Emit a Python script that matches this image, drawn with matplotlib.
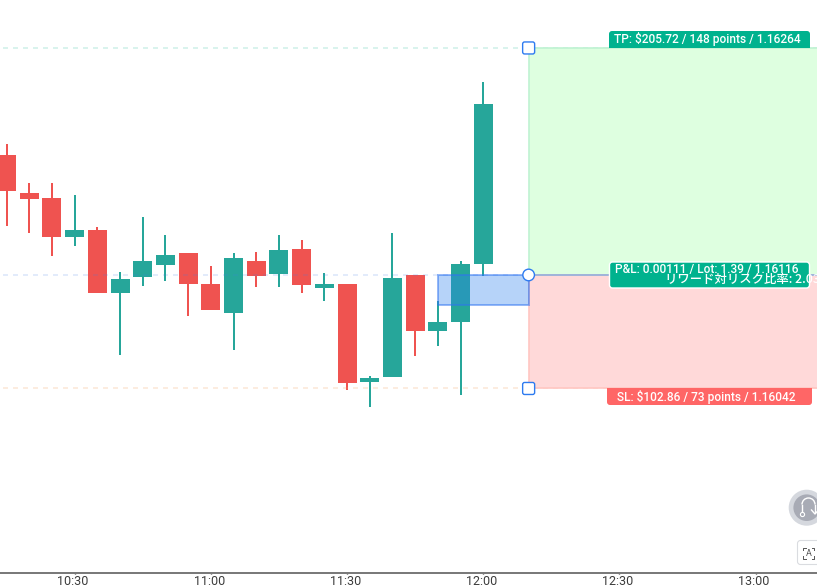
import matplotlib
matplotlib.use("Agg")
import matplotlib.pyplot as plt
from matplotlib.patches import Rectangle, FancyBboxPatch, Circle, Arc
from matplotlib.transforms import ScaledTranslation

# candles, minutes since midnight, first one is 10:15
times = [615 + 5 * i for i in range(22)]
opens = [1.161942, 1.161695, 1.161662, 1.161408, 1.161453, 1.161043, 1.161147, 1.161225,
         1.161303, 1.161101, 1.160912, 1.161251, 1.161167, 1.161329, 1.161075, 1.161101,
         1.160462, 1.160495, 1.161160, 1.160795, 1.160854, 1.161232]
closes = [1.161708, 1.161655, 1.161408, 1.161453, 1.161043, 1.161134, 1.161251, 1.161290,
          1.161101, 1.160932, 1.161271, 1.161153, 1.161323, 1.161095, 1.161101, 1.160456,
          1.160489, 1.161140, 1.160795, 1.160854, 1.161232, 1.162275]
highs = [1.162014, 1.161760, 1.161760, 1.161682, 1.161473, 1.161180, 1.161538, 1.161421,
         1.161303, 1.161219, 1.161303, 1.161310, 1.161421, 1.161388, 1.161173, 1.161101,
         1.160502, 1.161434, 1.161160, 1.160991, 1.161251, 1.162418]
lows = [1.161479, 1.161434, 1.161284, 1.161349, 1.161043, 1.160638, 1.161088, 1.161121,
        1.160893, 1.160932, 1.160671, 1.161082, 1.161082, 1.161043, 1.160991, 1.160410,
        1.160299, 1.160495, 1.160632, 1.160697, 1.160378, 1.161153]

tick_pos = [630, 660, 690, 720, 750, 780]
tick_labels = ["10:30", "11:00", "11:30", "12:00", "12:30", "13:00"]

tp_price = 1.16264
entry_price = 1.16116
sl_price = 1.16042
exit_price = 1.160964
trade_start = 710
trade_end = 730
tp_text = "TP: $205.72 / 148 points / 1.16264"
pl_text = "P&L: 0.00111 / Lot: 1.39 / 1.16116"
sl_text = "SL: $102.86 / 73 points / 1.16042"
rr_text = "リワード対リスク比率: 2.03"

W, H = 817, 588
RED = "#EF5350"
GREEN = "#26A69A"
TAG_GREEN = "#00B28E"
TAG_RED = "#FF6666"
HANDLE = "#2E7BF0"

plt.rcParams["font.family"] = ["Roboto", "DejaVu Sans"]
fig = plt.figure(figsize=(W / 100, H / 100), dpi=100)
ax = fig.add_axes([0, 15 / H, 1, 573 / H])
ax.set_xlim(613.56, 613.56 + W / 4.54)
ax.set_ylim(1.159217, 1.1629527)

# candles
for t, o, c, h, l in zip(times, opens, closes, highs, lows):
    col = GREEN if c >= o else RED
    ax.vlines(t, l, h, color=col, lw=1.44, zorder=2)
    ax.bar(t, abs(c - o), bottom=min(o, c), width=4.18, color=col, lw=0, zorder=2)

# level lines
dash = (3.5, (2.5, 2.5))
ax.axhline(tp_price, color="#30C0A0", alpha=0.18, lw=1.44, ls=dash, zorder=3)
ax.axhline(entry_price, color="#3F7FE8", alpha=0.15, lw=1.44, ls=dash, zorder=3)
ax.axhline(sl_price, color="#F0A060", alpha=0.2, lw=1.44, ls=dash, zorder=3)

# position tool
right = ax.get_xlim()[1] + 5
ax.add_patch(Rectangle((trade_end, entry_price), right - trade_end, tp_price - entry_price,
                       fc="#DEFFE0", ec="#BFF2D2", lw=1.2, zorder=4))
ax.add_patch(Rectangle((trade_end, sl_price), right - trade_end, entry_price - sl_price,
                       fc="#FFD9D9", ec="#FFC6C2", lw=1.2, zorder=4))
ax.hlines(entry_price, trade_end, right, color="#8FB0DE", lw=1.2, zorder=5)
ax.add_patch(Rectangle((trade_start, exit_price), trade_end - trade_start, entry_price - exit_price,
                       fc=(0.18, 0.506, 0.941, 0.35), ec=(0.18, 0.45, 0.941, 0.5), lw=1.44, zorder=5))

for s in ["top", "left", "right"]:
    ax.spines[s].set_visible(False)
ax.spines["bottom"].set_color("#7A7A7A")
ax.spines["bottom"].set_linewidth(1.44)
ax.set_yticks([])
ax.set_xticks(tick_pos)
ax.set_xticklabels(tick_labels, fontsize=9, color="#3C3C3C")
ax.tick_params(axis="x", length=1, width=1, color="#333333", pad=0.6)
for lab in ax.get_xticklabels():
    lab.set_transform(lab.get_transform() + ScaledTranslation(-1.5 / 100, 0, fig.dpi_scale_trans))

# overlay in pixels for tags and buttons
ov = fig.add_axes([0, 0, 1, 1], facecolor="none")
ov.set_xlim(0, W)
ov.set_ylim(H, 0)
ov.axis("off")


def to_px(t, p):
    x, y = ax.transData.transform((t, p))
    return x, H - y


def tag(x0, x1, y0, y1, col, ec="none", lw=0):
    r = 3
    ov.add_patch(FancyBboxPatch((x0 + r, y0 + r), x1 - x0 - 2 * r, y1 - y0 - 2 * r,
                                boxstyle="round,pad=%d,rounding_size=%d" % (r, r),
                                fc=col, ec=ec, lw=lw, zorder=6))


hx, ty = to_px(trade_end, tp_price)
_, ey = to_px(trade_end, entry_price)
_, sy = to_px(trade_end, sl_price)

tag(609, 810, 31, ty, TAG_GREEN)
ov.add_patch(Rectangle((609, ty - 5), 201, 5, fc=TAG_GREEN, lw=0, zorder=6))
tag(607, 812, sy, 405, TAG_RED)
ov.add_patch(Rectangle((607, sy), 205, 5, fc=TAG_RED, lw=0, zorder=6))
tag(609.5, 809.5, 262, 288, TAG_GREEN, ec="white", lw=1)

ov.text(614, 39, tp_text, color="white", fontsize=8.6, weight=500, va="center", zorder=7)
ov.text(617.5, 396.5, sl_text, color="white", fontsize=8.6, weight=500, va="center", zorder=7)
ov.text(615, 270, pl_text, color="white", fontsize=8.6, weight=500, va="center", zorder=7)
ov.text(665, 279, rr_text, color="white", fontsize=8.9, weight=500, va="center", zorder=8,
        family=["Noto Sans CJK JP", "DejaVu Sans"])

# handles
for y in [ty, sy]:
    ov.add_patch(FancyBboxPatch((hx - 4, y - 4), 8, 8, boxstyle="round,pad=2,rounding_size=2",
                                fc="white", ec=HANDLE, lw=1, zorder=7))
ov.add_patch(Circle((hx, ey), 5.8, fc="white", ec=HANDLE, lw=1, zorder=7))

# replay button
ov.add_patch(Circle((806.7, 507.7), 18, fc="#D5D8DE", lw=0, zorder=7))
ov.add_patch(Circle((806.7, 507.7), 13.3, fc="#A8ABB5", lw=0, zorder=8))
ov.add_patch(Arc((808.5, 504.5), 13, 13, theta1=180, theta2=360, ec="white", lw=1, zorder=9))
ov.plot([802, 802], [504.5, 512.5], color="white", lw=1, zorder=9)
ov.plot([815, 815], [504.5, 512], color="white", lw=1, zorder=9)
ov.plot([802.3], [514], "o", ms=3, mfc="#A8ABB5", mec="white", mew=0.8, zorder=9)
ov.plot([811.5, 815, 818.5], [510, 514, 510], color="white", lw=1, zorder=9)

# screenshot button
ov.add_patch(FancyBboxPatch((800, 543), 30, 19, boxstyle="round,pad=2.5,rounding_size=3",
                            fc="white", ec="#DADCE0", lw=0.8, zorder=7))
ov.text(809, 553, "A", fontsize=6.5, color="#555555", ha="center", va="center", zorder=8)
for cx, sx in [(803.5, 1), (814.5, -1)]:
    for cy, sg in [(547.5, 1), (558.5, -1)]:
        ov.plot([cx + 2.5 * sx, cx, cx], [cy, cy, cy + 2.5 * sg], color="#555555", lw=0.7, zorder=8)

fig.savefig("out.png", dpi=100)
